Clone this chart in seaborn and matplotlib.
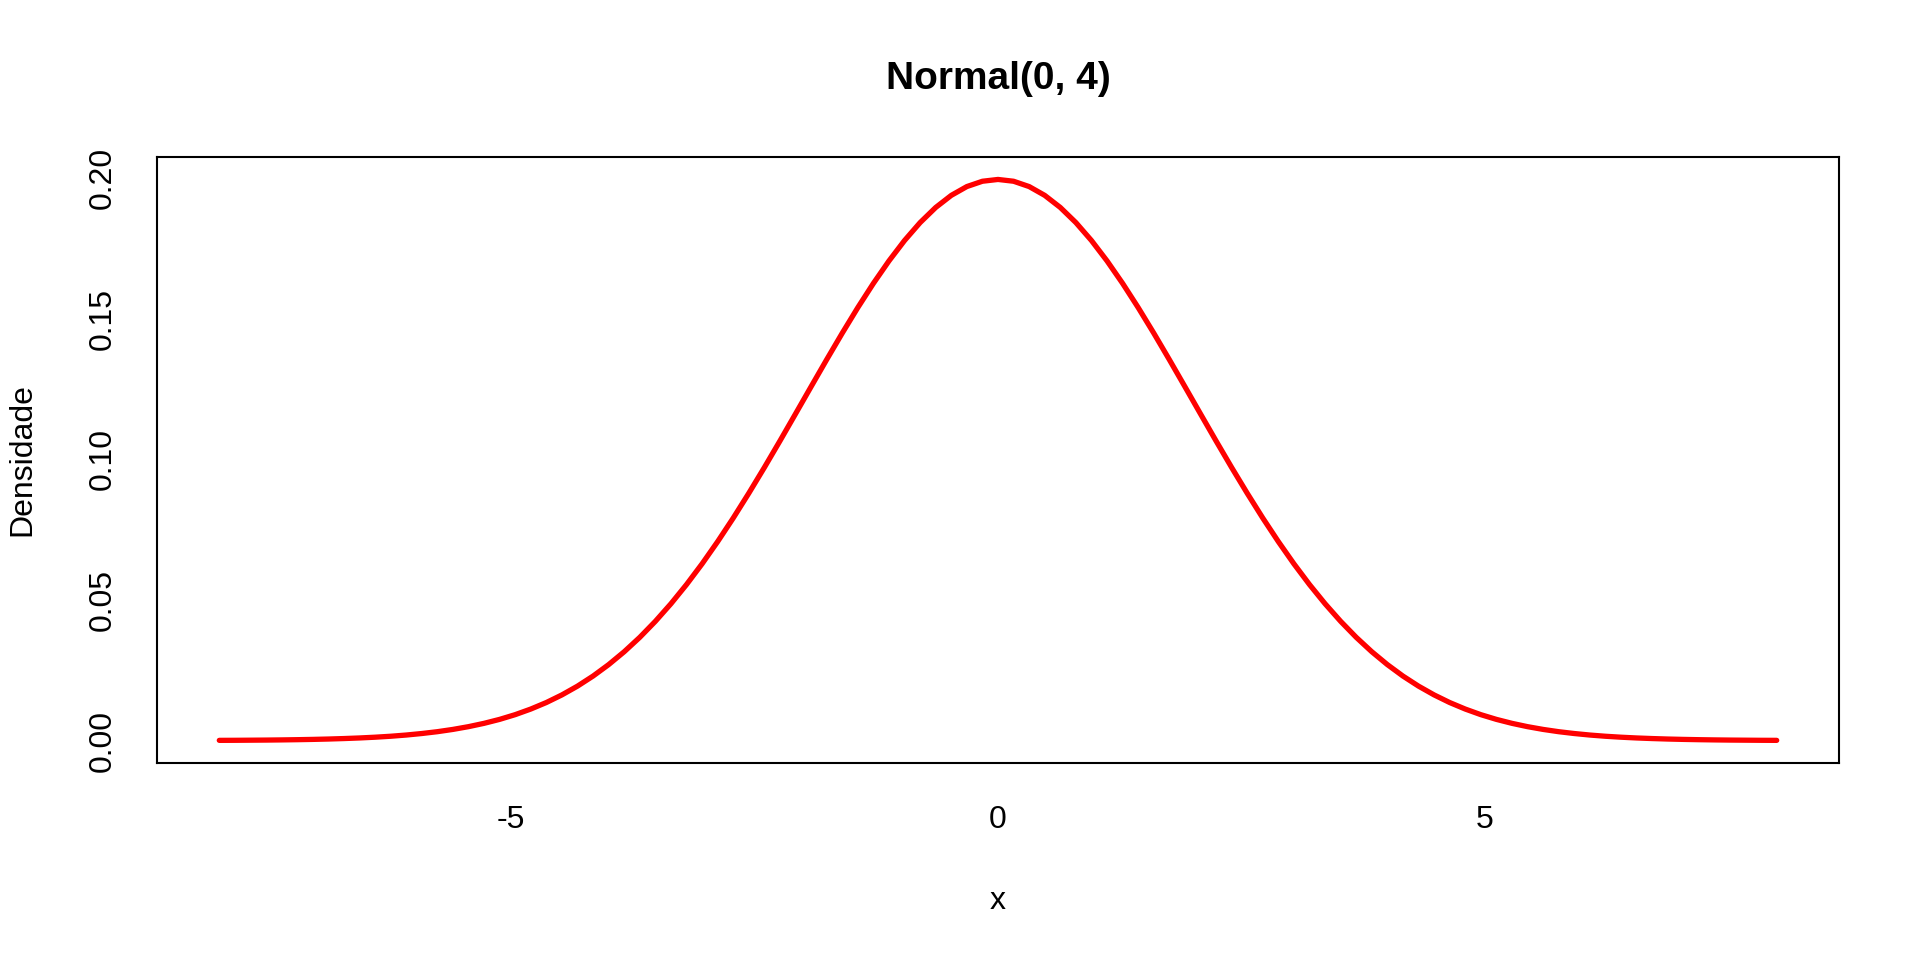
import matplotlib
matplotlib.use("Agg")
import matplotlib.pyplot as plt
import seaborn as sns
import pandas as pd

# Densidade da Normal(0, 4), x de 0 a 8 em passos de 0.16
# (a curva e simetrica, o lado negativo usa os mesmos valores)
x_dir = [0.00, 0.16, 0.32, 0.48, 0.64, 0.80, 0.96, 1.12, 1.28, 1.44, 1.60, 1.76, 1.92,
         2.08, 2.24, 2.40, 2.56, 2.72, 2.88, 3.04, 3.20, 3.36, 3.52, 3.68, 3.84, 4.00,
         4.16, 4.32, 4.48, 4.64, 4.80, 4.96, 5.12, 5.28, 5.44, 5.60, 5.76, 5.92, 6.08,
         6.24, 6.40, 6.56, 6.72, 6.88, 7.04, 7.20, 7.36, 7.52, 7.68, 7.84, 8.00]
dens_dir = [0.19947, 0.19883, 0.19694, 0.19381, 0.18951, 0.18414, 0.17777, 0.17052,
            0.16253, 0.15393, 0.14485, 0.13543, 0.12582, 0.11615, 0.10653, 0.09709,
            0.08793, 0.07911, 0.07073, 0.06283, 0.05546, 0.04864, 0.04239, 0.03670,
            0.03158, 0.02700, 0.02293, 0.01935, 0.01623, 0.01352, 0.01120, 0.00921,
            0.00753, 0.00612, 0.00494, 0.00396, 0.00315, 0.00250, 0.00196, 0.00153,
            0.00119, 0.00092, 0.00071, 0.00054, 0.00041, 0.00031, 0.00023, 0.00017,
            0.00013, 0.00009, 0.00007]
x_ticks = [-5, 0, 5]
y_ticks = [0.00, 0.05, 0.10, 0.15, 0.20]
y_tick_labels = ["0.00", "0.05", "0.10", "0.15", "0.20"]
titulo = "Normal(0, 4)"

x_vals = [-v for v in x_dir[:0:-1]] + x_dir
densidade = dens_dir[:0:-1] + dens_dir
df = pd.DataFrame({"x": x_vals, "Densidade": densidade})

sns.set_theme(style="white")
plt.rcParams['font.family'] = ['Liberation Sans', 'DejaVu Sans']
plt.rcParams['text.color'] = 'black'
plt.rcParams['axes.labelcolor'] = 'black'

fig = plt.figure(figsize=(19.2, 9.6), dpi=100)
fig.set_facecolor("white")
ax = fig.add_axes([157 / 1920, 1 - 763 / 960, (1839 - 157) / 1920, (763 - 157) / 960])

sns.lineplot(data=df, x="x", y="Densidade", color="#ff0000", linewidth=3.8,
             solid_capstyle="round", ax=ax)

ax.set_xlim(-8.64, 8.64)
ax.set_ylim(-0.00798, 0.20745)
ax.set_xticks(x_ticks)
ax.set_xticklabels([str(t) for t in x_ticks])
ax.set_yticks(y_ticks)
ax.set_yticklabels(y_tick_labels)
plt.setp(ax.get_yticklabels(), rotation=90, va="center")

for s in ax.spines.values():
    s.set_visible(True)
    s.set_color("black")
    s.set_linewidth(1.5)
ax.tick_params(axis="both", direction="out", length=14.4, width=1.5, color="black",
               labelsize=23, labelcolor="black")
ax.tick_params(axis="x", pad=16)
ax.tick_params(axis="y", pad=14)
ax.set_facecolor("white")
ax.grid(False)

ax.set_xlabel("x", fontsize=23, va="center", color="black")
ax.xaxis.set_label_coords(0.5, (763 - 901) / 606)
ax.set_ylabel("Densidade", fontsize=23, va="center", color="black")
ax.yaxis.set_label_coords((22 - 157) / 1682, 0.5)
ax.set_title(titulo, fontsize=28, fontweight="bold", y=(763 - 79) / 606, va="center",
             pad=0, color="black")

fig.savefig("out.png", dpi=100, facecolor="white")
